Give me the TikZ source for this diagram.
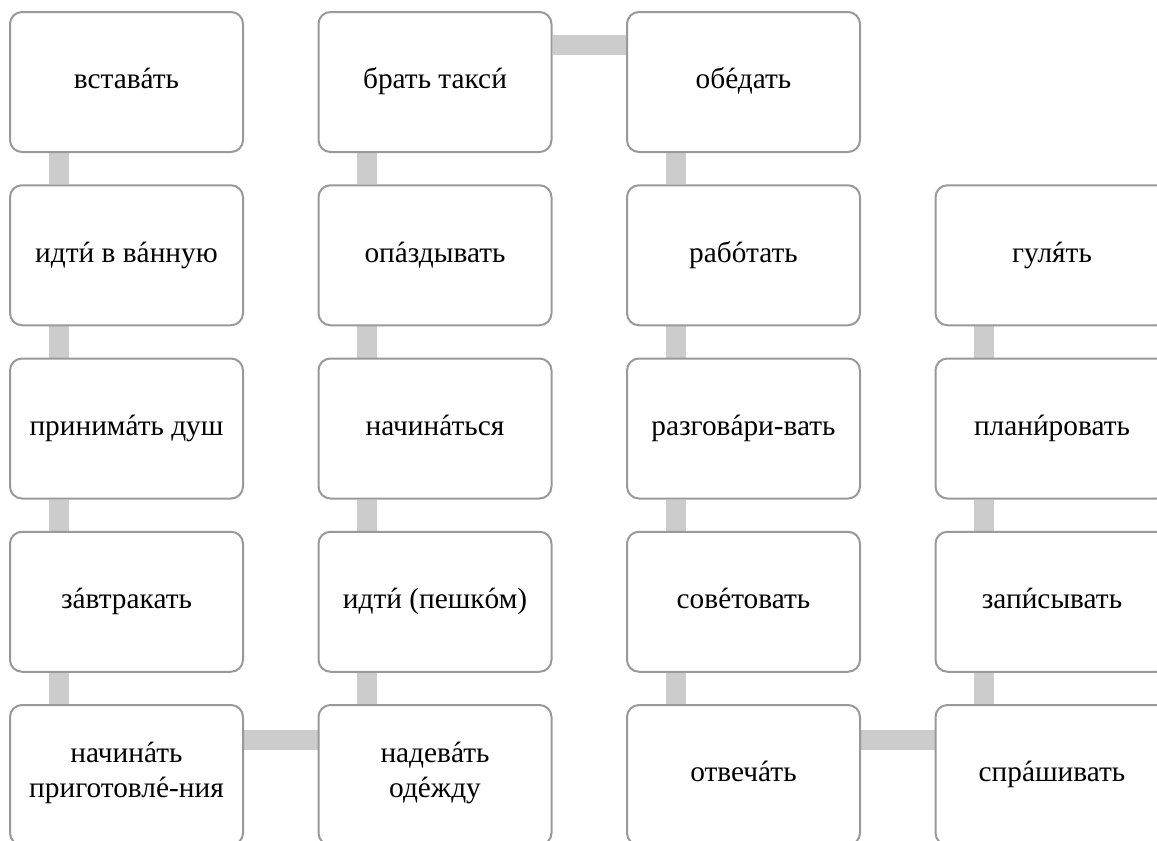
\documentclass[tikz,border=0pt]{standalone}
\usepackage{fontspec}
\setmainfont{Liberation Serif}
\usepackage{tikz}

\definecolor{boxgray}{HTML}{999999}
\definecolor{linkgray}{HTML}{CCCCCC}
\pgfdeclarelayer{bg}
\pgfsetlayers{bg,main}
\newcommand{\udar}[1]{{\accent"00B4 #1}}

\tikzset{
  act/.style={draw=boxgray, line width=1.5pt, fill=white, rounded corners=9pt,
    minimum width=174.75pt, minimum height=105pt, inner sep=0pt, align=center,
    font=\fontsize{22}{26}\selectfont,
    execute at begin node=\strut, execute at end node=\strut},
  link/.style={draw=linkgray, line width=15pt}
}

\begin{document}
\begin{tikzpicture}[x=0.75pt, y=-0.75pt]
    \useasboundingbox (0,0) rectangle (1157,840);
    % first column
    \node[act] (vstavat) at (126.5,82) {встав\udar{а}ть};
    \node[act] (vannaya) at (126.5,255.25) {идт\udar{и} в в\udar{а}нную};
    \node[act] (dush) at (126.5,428.5) {приним\udar{а}ть душ};
    \node[act] (zavtrak) at (126.5,601.75) {з\udar{а}втракать};
    \node[act] (nachinat) at (126.5,775) {начин\udar{а}ть\\приготовл\udar{е}-ния};
    % second column
    \node[act] (taksi) at (435,82) {брать такс\udar{и}};
    \node[act] (opazd) at (435,255.25) {оп\udar{а}здывать};
    \node[act] (nachin) at (435,428.5) {начин\udar{а}ться};
    \node[act] (peshkom) at (435,601.75) {идт\udar{и} (пешк\udar{о}м)};
    \node[act] (odezhda) at (435,775) {надев\udar{а}ть\\од\udar{е}жду};
    % third column
    \node[act] (obed) at (743.5,82) {об\udar{е}дать};
    \node[act] (rabota) at (743.5,255.25) {раб\udar{о}тать};
    \node[act] (razgovor) at (743.5,428.5) {разгов\udar{а}ри-вать};
    \node[act] (sovet) at (743.5,601.75) {сов\udar{е}товать};
    \node[act] (otvet) at (743.5,775) {отвеч\udar{а}ть};
    % fourth column
    \node[act] (gulyat) at (1052,255.25) {гул\udar{я}ть};
    \node[act] (plan) at (1052,428.5) {план\udar{и}ровать};
    \node[act] (zapis) at (1052,601.75) {зап\udar{и}сывать};
    \node[act] (sprash) at (1052,775) {спр\udar{а}шивать};
    \begin{pgfonlayer}{bg}
    \draw[link] ([xshift=-51pt]vstavat.south) to ([xshift=-51pt]vannaya.north);
    \draw[link] ([xshift=-51pt]vannaya.south) to ([xshift=-51pt]dush.north);
    \draw[link] ([xshift=-51pt]dush.south) to ([xshift=-51pt]zavtrak.north);
    \draw[link] ([xshift=-51pt]zavtrak.south) to ([xshift=-51pt]nachinat.north);
    \draw[link] ([yshift=26pt]nachinat.east) to ([yshift=26pt]odezhda.west);
    \draw[link] ([xshift=-51pt]odezhda.north) to ([xshift=-51pt]peshkom.south);
    \draw[link] ([xshift=-51pt]peshkom.north) to ([xshift=-51pt]nachin.south);
    \draw[link] ([xshift=-51pt]nachin.north) to ([xshift=-51pt]opazd.south);
    \draw[link] ([xshift=-51pt]opazd.north) to ([xshift=-51pt]taksi.south);
    \draw[link] ([yshift=27.75pt]taksi.east) to ([yshift=27.75pt]obed.west);
    \draw[link] ([xshift=-51pt]obed.south) to ([xshift=-51pt]rabota.north);
    \draw[link] ([xshift=-51pt]rabota.south) to ([xshift=-51pt]razgovor.north);
    \draw[link] ([xshift=-51pt]razgovor.south) to ([xshift=-51pt]sovet.north);
    \draw[link] ([xshift=-51pt]sovet.south) to ([xshift=-51pt]otvet.north);
    \draw[link] ([yshift=26pt]otvet.east) to ([yshift=26pt]sprash.west);
    \draw[link] ([xshift=-51pt]sprash.north) to ([xshift=-51pt]zapis.south);
    \draw[link] ([xshift=-51pt]zapis.north) to ([xshift=-51pt]plan.south);
    \draw[link] ([xshift=-51pt]plan.north) to ([xshift=-51pt]gulyat.south);
    \end{pgfonlayer}
  \end{tikzpicture}
\end{document}
